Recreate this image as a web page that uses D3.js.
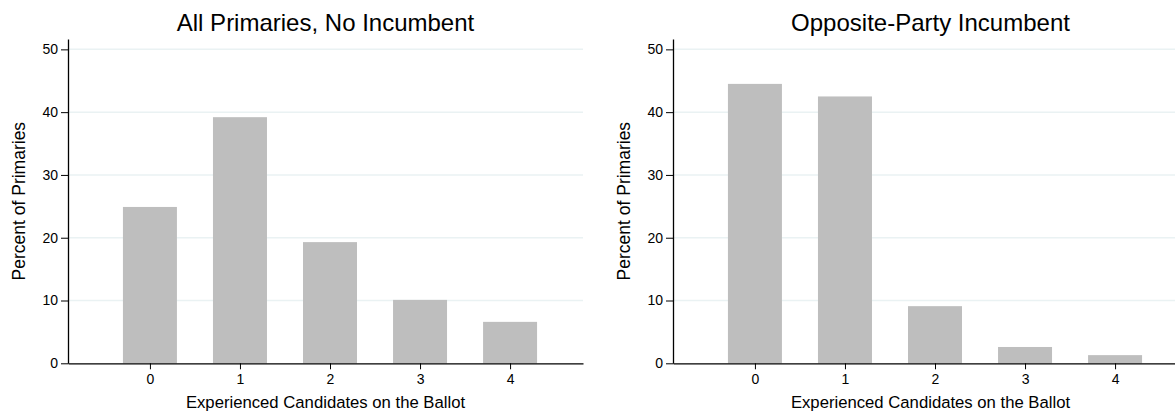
<!DOCTYPE html>
<html>
<head>
<meta charset="utf-8">
<script src="https://cdn.jsdelivr.net/npm/d3@7"></script>
<style>
  html, body { margin: 0; padding: 0; background: #fff; }
  svg { display: block; }
  text { font-family: "Liberation Sans", Arial, Helvetica, sans-serif; fill: #000; }
</style>
</head>
<body>
<script>
// Number of experienced candidates on the ballot (category axis)
const categories = [0, 1, 2, 3, 4];
// Percent of primaries, open seat (no incumbent)
const noIncumbent = [24.9, 39.2, 19.3, 10.1, 6.6];
// Percent of primaries, opposite-party incumbent
const oppositeIncumbent = [44.5, 42.5, 9.1, 2.6, 1.3];
const yTicks = [0, 10, 20, 30, 40, 50];
const panelTitles = ["All Primaries, No Incumbent", "Opposite-Party Incumbent"];
const xTitle = "Experienced Candidates on the Ballot";
const yTitle = "Percent of Primaries";

const W = 1175, H = 414;
const svg = d3.select("body").append("svg").attr("width", W).attr("height", H);

const panels = [
  { title: panelTitles[0], values: noIncumbent, left: 68 },
  { title: panelTitles[1], values: oppositeIncumbent, left: 673 }
];

const plotW = 515, plotTop = 39, plotBottom = 363.3;
const barW = 54;
const FONT = '"Liberation Sans", Arial, Helvetica, sans-serif';

panels.forEach(p => {
  const x = d3.scaleLinear().domain([-0.91, 4.81]).range([p.left, p.left + plotW]);
  const y = d3.scaleLinear().domain([0, 51.65]).range([plotBottom, plotTop]);
  const g = svg.append("g");

  // horizontal gridlines
  g.append("g").selectAll("line")
    .data(yTicks.filter(t => t > 0))
    .join("line")
    .attr("x1", p.left).attr("x2", p.left + plotW)
    .attr("y1", d => y(d)).attr("y2", d => y(d))
    .attr("stroke", "#eaf2f3").attr("stroke-width", 1.5);

  // bars
  g.append("g").selectAll("rect")
    .data(categories.map((c, i) => ({ c, v: p.values[i] })))
    .join("rect")
    .attr("x", d => x(d.c) - barW / 2)
    .attr("width", barW)
    .attr("y", d => y(d.v))
    .attr("height", d => y(0) - y(d.v))
    .attr("fill", "#bebebe");

  // y axis
  const yAxis = g.append("g")
    .attr("transform", `translate(${p.left},0)`)
    .call(d3.axisLeft(y).tickValues(yTicks).tickSize(7).tickPadding(3).tickSizeOuter(0));
  yAxis.attr("font-size", null).attr("font-family", null);
  yAxis.select(".domain").attr("stroke", "#000").attr("stroke-width", 1.3);
  yAxis.selectAll(".tick line").attr("stroke", "#000").attr("stroke-width", 1);
  yAxis.selectAll(".tick text").style("font-size", "14px").style("font-family", FONT);

  // x axis
  const xAxis = g.append("g")
    .attr("transform", `translate(0,${plotBottom})`)
    .call(d3.axisBottom(x).tickValues(categories).tickFormat(d3.format("d")).tickSize(6).tickPadding(5).tickSizeOuter(0));
  xAxis.attr("font-size", null).attr("font-family", null);
  xAxis.select(".domain").attr("stroke", "#000").attr("stroke-width", 1.3);
  xAxis.selectAll(".tick line").attr("stroke", "#000").attr("stroke-width", 1);
  xAxis.selectAll(".tick text").style("font-size", "14px").style("font-family", FONT);

  const cx = p.left + plotW / 2;

  // panel title
  g.append("text")
    .attr("x", cx).attr("y", 31)
    .attr("text-anchor", "middle")
    .style("font-size", "24px")
    .text(p.title);

  // x axis title
  g.append("text")
    .attr("x", cx).attr("y", 408)
    .attr("text-anchor", "middle")
    .style("font-size", "16.7px")
    .text(xTitle);

  // y axis title
  g.append("text")
    .attr("transform", `translate(${p.left - 43},${(plotTop + plotBottom) / 2}) rotate(-90)`)
    .attr("text-anchor", "middle")
    .style("font-size", "17.5px")
    .text(yTitle);
});
</script>
</body>
</html>
